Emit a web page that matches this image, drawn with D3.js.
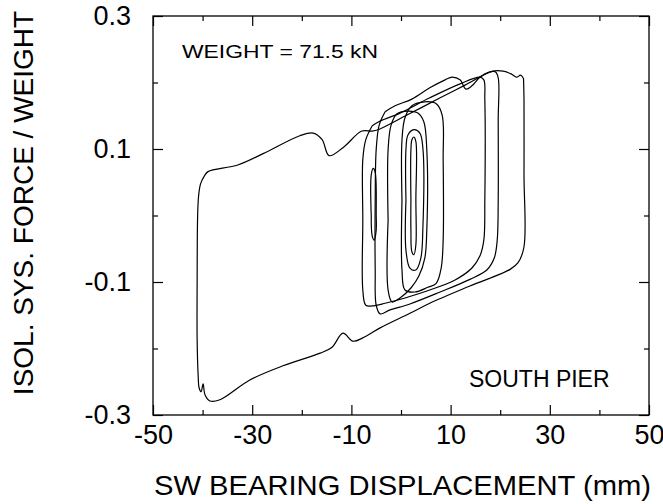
<!DOCTYPE html>
<html>
<head>
<meta charset="utf-8">
<script src="https://cdn.jsdelivr.net/npm/d3@7.9.0/dist/d3.min.js"></script>
<style>
  body { margin: 0; background: #fff; }
  svg { display: block; }
  text { font-family: "Liberation Sans", Arial, Helvetica, sans-serif; fill: #000; }
</style>
</head>
<body>
<svg id="chart" width="663" height="504"></svg>
<script>
// ---- tick values / labels ----
const xMajor = [-50, -30, -10, 10, 30, 50];
const xMinor = [-40, -20, 0, 20, 40];
const xTickLabels = ['-50', '-30', '-10', '10', '30', '50'];
const yMajor = [-0.3, -0.1, 0.1, 0.3];
const yMinor = [-0.2, 0, 0.2];
const yTickLabels = ['-0.3', '-0.1', '0.1', '0.3'];

// ---- hysteresis loops, [displacement mm, force/weight] ----
const outerLoop = [
  [24.7, 0.206], [24.8, 0.174], [24.8, 0.06], [24.8, -0.047], [23.6, -0.071], [22.0, -0.081],
  [13.9, -0.106], [5.8, -0.132], [1.8, -0.147], [-4.2, -0.169], [-7.7, -0.184], [-9.7, -0.189],
  [-11.7, -0.177], [-13.9, -0.198], [-16.3, -0.207], [-23.8, -0.226], [-30.4, -0.247],
  [-36.5, -0.277], [-38.5, -0.279], [-39.5, -0.270], [-39.9, -0.253], [-40.3, -0.265],
  [-40.7, -0.259], [-40.9, -0.240], [-41.1, -0.187], [-41.1, -0.1], [-41.0, 0.0],
  [-40.8, 0.03], [-40.4, 0.048], [-39.6, 0.060], [-38.9, 0.066], [-32.9, 0.076],
  [-27.8, 0.093], [-20.4, 0.120], [-17.7, 0.124], [-15.9, 0.114], [-14.5, 0.090],
  [-11.7, 0.102], [-7.9, 0.127], [-5.8, 0.127], [-4.6, 0.129], [1.2, 0.151], [7.9, 0.177],
  [12.9, 0.196], [18.5, 0.217], [20.6, 0.217], [22.2, 0.213], [23.3, 0.208], [24.1, 0.211],
  [24.7, 0.206]
];
const loopB = [
  [-3.2, 0.156], [-1.2, 0.165], [2.2, 0.175], [5.8, 0.192], [8.9, 0.204], [10.3, 0.208],
  [11.9, 0.204], [13.1, 0.190], [14.3, 0.195], [15.9, 0.208], [17.9, 0.216], [19.0, 0.216],
  [19.6, 0.207], [19.6, 0.144], [19.6, 0.023], [19.4, -0.037], [18.8, -0.064], [17.3, -0.082],
  [13.9, -0.096], [7.9, -0.115], [1.8, -0.133], [-2.2, -0.142], [-4.2, -0.148], [-5.0, -0.135],
  [-5.2, -0.082], [-5.2, 0.023], [-5.0, 0.099], [-4.4, 0.136], [-3.2, 0.156]
];
const loopC = [
  [-5.8, 0.135], [-4.2, 0.142], [-0.2, 0.154], [5.8, 0.177], [11.9, 0.198], [15.9, 0.208],
  [16.7, 0.204], [16.9, 0.174], [16.9, 0.023], [16.7, -0.037], [15.9, -0.061], [14.3, -0.079],
  [10.9, -0.097], [5.8, -0.112], [0.8, -0.124], [-3.2, -0.132], [-5.8, -0.136], [-7.1, -0.135],
  [-7.7, -0.112], [-7.7, -0.007], [-7.7, 0.084], [-7.1, 0.114], [-5.8, 0.135]
];
const loopD = [
  [0.2, 0.023], [0.2, 0.114], [0.8, 0.147], [2.2, 0.165], [4.8, 0.171], [7.1, 0.168],
  [8.3, 0.151], [8.5, 0.084], [8.5, -0.037], [8.1, -0.079], [7.1, -0.102], [5.4, -0.108],
  [2.8, -0.115], [0.8, -0.112], [0.2, -0.082], [0.2, 0.023]
];
const loopE = [
  [-2.6, -0.007], [-2.6, 0.099], [-2.0, 0.136], [-0.8, 0.153], [1.4, 0.157], [3.4, 0.154],
  [4.6, 0.141], [5.2, 0.099], [5.2, -0.022], [4.8, -0.064], [3.6, -0.091], [2.0, -0.109],
  [-0.2, -0.124], [-1.8, -0.130], [-2.6, -0.112], [-2.6, -0.007]
];
const loopF = [
  [1.0, 0.023], [1.0, 0.099], [1.4, 0.121], [2.6, 0.129], [3.8, 0.124], [4.4, 0.102],
  [4.4, -0.022], [4.0, -0.064], [3.0, -0.082], [1.8, -0.079], [1.0, -0.052], [1.0, 0.023]
];
const loopG = [
  [2.0, 0.023], [2.0, 0.099], [2.2, 0.114], [2.6, 0.118], [3.0, 0.111], [3.0, 0.023],
  [3.0, -0.044], [2.6, -0.059], [2.2, -0.055], [2.0, -0.022], [2.0, 0.023]
];
const loopH = [
  [-6.0, 0.0], [-6.0, 0.061], [-5.6, 0.071], [-5.2, 0.065], [-5.0, 0.0], [-5.0, -0.022],
  [-5.4, -0.037], [-5.8, -0.031], [-6.0, 0.0]
];
const loops = [outerLoop, loopB, loopC, loopD, loopE, loopF, loopG, loopH];

// ---- layout ----
const plot = { left: 153, right: 649, top: 16, bottom: 415 };
const svg = d3.select('#chart');

const x = d3.scaleLinear().domain([-50, 50]).range([plot.left, plot.right]);
const y = d3.scaleLinear().domain([-0.3, 0.3]).range([plot.bottom, plot.top]);

// curves
const line = d3.line()
  .x(d => x(d[0]))
  .y(d => y(d[1]))
  .curve(d3.curveCatmullRom.alpha(0.5));

svg.append('g')
  .selectAll('path')
  .data(loops)
  .join('path')
  .attr('d', line)
  .attr('fill', 'none')
  .attr('stroke', '#000')
  .attr('stroke-width', 1.2)
  .attr('stroke-linejoin', 'round');

// ticks (all inward), majors + minors on four sides
function ticks(axisFn, values, size, transform) {
  const g = svg.append('g')
    .attr('transform', transform)
    .call(axisFn.tickValues(values).tickSize(-size).tickFormat(''));
  g.select('.domain').remove();
  g.selectAll('line').attr('stroke', '#000').attr('stroke-width', 1.2);
  return g;
}
ticks(d3.axisTop(x), xMajor, 10, `translate(0,${plot.top})`);
ticks(d3.axisTop(x), xMinor, 5, `translate(0,${plot.top})`);
ticks(d3.axisBottom(x), xMinor, 5, `translate(0,${plot.bottom})`);
ticks(d3.axisRight(y), yMajor, 10, `translate(${plot.right},0)`);
ticks(d3.axisRight(y), yMinor, 5, `translate(${plot.right},0)`);
ticks(d3.axisLeft(y), yMinor, 5, `translate(${plot.left},0)`);

// labelled axes
const xAxis = svg.append('g')
  .attr('transform', `translate(0,${plot.bottom})`)
  .call(d3.axisBottom(x).tickValues(xMajor).tickSize(-10).tickPadding(10)
    .tickFormat((d, i) => xTickLabels[i]));
const yAxis = svg.append('g')
  .attr('transform', `translate(${plot.left},0)`)
  .call(d3.axisLeft(y).tickValues(yMajor).tickSize(-10).tickPadding(22)
    .tickFormat((d, i) => yTickLabels[i]));
[xAxis, yAxis].forEach(g => {
  g.select('.domain').remove();
  g.selectAll('line').attr('stroke', '#000').attr('stroke-width', 1.2);
  g.selectAll('text')
    .attr('fill', '#000')
    .style('font-size', '27px')
    .style('font-family', '"Liberation Sans", Arial, Helvetica, sans-serif');
});

// frame
svg.append('rect')
  .attr('x', plot.left).attr('y', plot.top)
  .attr('width', plot.right - plot.left).attr('height', plot.bottom - plot.top)
  .attr('fill', 'none').attr('stroke', '#000').attr('stroke-width', 1.3);

// titles
svg.append('text')
  .attr('transform', 'translate(33,203) rotate(-90)')
  .attr('text-anchor', 'middle')
  .style('font-size', '28px')
  .text('ISOL. SYS. FORCE / WEIGHT');

svg.append('text')
  .attr('x', 154).attr('y', 495)
  .attr('textLength', 497).attr('lengthAdjust', 'spacingAndGlyphs')
  .style('font-size', '28px')
  .text('SW BEARING DISPLACEMENT (mm)');

// annotations
svg.append('text')
  .attr('x', 182).attr('y', 58)
  .attr('textLength', 196).attr('lengthAdjust', 'spacingAndGlyphs')
  .style('font-size', '19px')
  .text('WEIGHT = 71.5 kN');

svg.append('text')
  .attr('x', 469).attr('y', 387)
  .style('font-size', '23px')
  .text('SOUTH PIER');
</script>
</body>
</html>
